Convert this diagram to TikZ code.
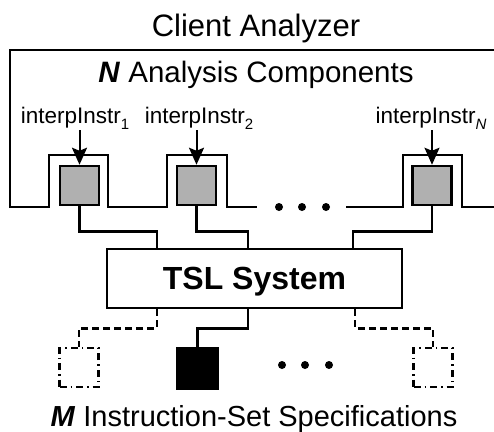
\documentclass[tikz,border=0pt]{standalone}
\usepackage{fontspec}
\setmainfont{Liberation Sans}
\usetikzlibrary{arrows.meta}
\definecolor{cgray}{gray}{0.69}
\newcommand{\mysub}[1]{\raisebox{-0.28em}{\fontsize{15}{15}\selectfont #1}}
\begin{document}
\begin{tikzpicture}[x=1pt,y=-1pt, line width=2.5pt,
  txt/.style={inner sep=0pt, anchor=base},
  comp/.style={draw, fill=cgray, minimum size=39pt, inner sep=0pt},
  spec/.style={draw, minimum size=39pt, inner sep=0pt, line width=2.2pt, dash pattern=on 7pt off 4pt on 1.5pt off 4pt},
  specsolid/.style={draw, fill=black, minimum size=40pt, inner sep=0pt},
  tslbox/.style={draw, minimum width=295pt, minimum height=59pt, inner sep=0pt},
  dashline/.style={dash pattern=on 7pt off 4pt},
  arr/.style={-{Stealth[length=17pt,width=15pt,inset=3pt]}, line width=2pt},
  dot/.style={circle, fill=black, minimum size=8pt, inner sep=0pt}]
\useasboundingbox (0,0) rectangle (494,431);

% texts
\node[txt, font=\fontsize{31}{32}\selectfont] (title) at (256,36) {Client Analyzer};
\node[txt, font=\fontsize{29.5}{32}\selectfont] (ncomp) at (256,82) {\textbf{\textit{N}} Analysis Components};
\node[txt, font=\fontsize{22.5}{24}\selectfont] (l1) at (75,123) {interpInstr\mysub{1}};
\node[txt, font=\fontsize{22.5}{24}\selectfont] (l2) at (199,123) {interpInstr\mysub{2}};
\node[txt, font=\fontsize{22.5}{24}\selectfont] (lN) at (431,123) {interpInstr\mysub{\textit{N}}};
\node[txt, font=\fontsize{29}{32}\selectfont] (mspec) at (254,426) {\textbf{\textit{M}} Instruction-Set Specifications};

% frame
\draw (10,208) -- (10,50) -- (494,50);
\draw (10,207) -- (49,207) -- (49,155) -- (108,155) -- (108,207) -- (167,207) -- (167,155) -- (227,155) -- (227,207) -- (257,207);
\draw (346,207) -- (403,207) -- (403,155) -- (462,155) -- (462,207) -- (494,207);

% components
\node[comp] (c1) at (79.5,185.5) {};
\node[comp] (c2) at (196.5,185.5) {};
\node[comp] (cN) at (432,185.5) {};
\node[dot] (d1) at (279,207) {};
\node[dot] (d2) at (302,207) {};
\node[dot] (d3) at (326,207) {};

\coordinate (a1) at (79.5,130);
\coordinate (a2) at (196.5,130);
\coordinate (aN) at (432,130);
\draw[arr] (a1) -- (c1.north);
\draw[arr] (a2) -- (c2.north);
\draw[arr] (aN) -- (cN.north);

% TSL
\node[tslbox] (tsl) at (254.5,278.5) {};
\node[txt, font=\fontsize{32}{34}\selectfont\bfseries] (tsltxt) at (254.5,289) {TSL System};

\draw (c1.south) -- ++(0,25) -| ([xshift=-97.5pt]tsl.north);
\draw (c2.south) -- ++(0,25) -| ([xshift=-6.5pt]tsl.north);
\draw (cN.south) -- ++(0,25) -| ([xshift=98.5pt]tsl.north);

% specs
\node[spec] (s1) at (79,367.5) {};
\node[specsolid] (s2) at (197.5,368.5) {};
\node[spec] (sN) at (433,367.5) {};
\node[dot] (e1) at (282,365) {};
\node[dot] (e2) at (305,365) {};
\node[dot] (e3) at (329,365) {};

\draw[dashline] ([xshift=-97.5pt]tsl.south) -- ++(0,19) -| (s1.north);
\draw ([xshift=-6.5pt]tsl.south) -- ++(0,19) -| (s2.north);
\draw[dashline] ([xshift=100.5pt]tsl.south) -- ++(0,19) -| (sN.north);
\end{tikzpicture}
\end{document}
